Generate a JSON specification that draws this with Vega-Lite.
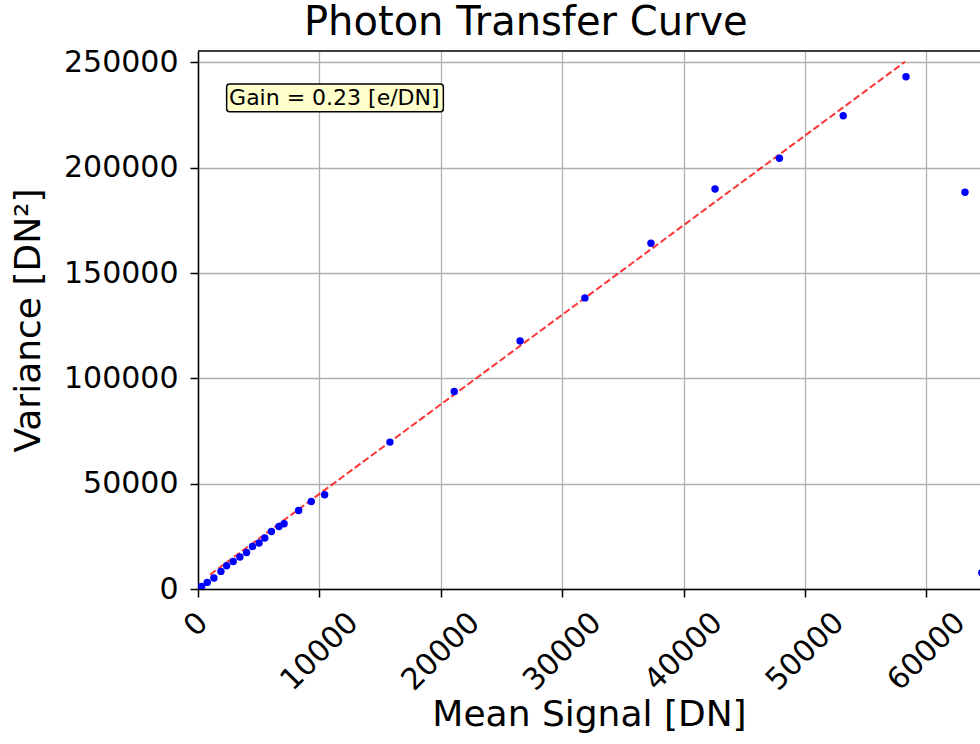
{
  "$schema": "https://vega.github.io/schema/vega-lite/v6.json",
  "width": 782,
  "height": 538,
  "autosize": {"type": "none"},
  "padding": {"left": 198, "top": 51, "right": 0, "bottom": 155},
  "background": "white",
  "title": {
    "text": "Photon Transfer Curve",
    "font": "DejaVu Sans",
    "fontSize": 40,
    "fontWeight": "normal",
    "color": "black",
    "anchor": "start",
    "frame": "group",
    "dx": 106,
    "dy": 38,
    "baseline": "alphabetic",
    "offset": 10
  },
  "config": {
    "view": {"stroke": null},
    "font": "DejaVu Sans",
    "axis": {
      "grid": true,
      "gridColor": "#b0b0b0",
      "gridWidth": 1.3,
      "domainColor": "black",
      "domainWidth": 1.5,
      "tickColor": "black",
      "tickWidth": 1.5,
      "tickSize": 8,
      "labelColor": "black",
      "labelFont": "DejaVu Sans",
      "labelFontSize": 30,
      "titleFont": "DejaVu Sans",
      "titleFontSize": 36,
      "titleFontWeight": "normal",
      "titleColor": "black"
    }
  },
  "datasets": {
    "points": [
      {"mean": 300, "variance": 1230},
      {"mean": 760, "variance": 3130},
      {"mean": 1310, "variance": 5220},
      {"mean": 1890, "variance": 8350},
      {"mean": 2360, "variance": 11050},
      {"mean": 2900, "variance": 13090},
      {"mean": 3450, "variance": 15180},
      {"mean": 4000, "variance": 17360},
      {"mean": 4490, "variance": 20210},
      {"mean": 5030, "variance": 21820},
      {"mean": 5500, "variance": 24190},
      {"mean": 6050, "variance": 27320},
      {"mean": 6670, "variance": 29700},
      {"mean": 7090, "variance": 30980},
      {"mean": 8290, "variance": 37290},
      {"mean": 9330, "variance": 41560},
      {"mean": 10430, "variance": 44730},
      {"mean": 15810, "variance": 69730},
      {"mean": 21110, "variance": 93740},
      {"mean": 26530, "variance": 117790},
      {"mean": 31870, "variance": 138190},
      {"mean": 37310, "variance": 164140},
      {"mean": 42590, "variance": 189900},
      {"mean": 47890, "variance": 204460},
      {"mean": 53150, "variance": 224670},
      {"mean": 58320, "variance": 243170},
      {"mean": 63180, "variance": 188330},
      {"mean": 64560, "variance": 7730}
    ],
    "fit": [
      {"mean": 990, "variance": 6780},
      {"mean": 58240, "variance": 250280}
    ],
    "box": [
      {"x1": 2360, "x2": 20210, "y1": 226560, "y2": 239700, "tx": 2560, "ty": 233100, "label": "Gain = 0.23 [e/DN]"}
    ],
    "spine": [
      {"top": 255400}
    ]
  },
  "layer": [
    {
      "data": {"name": "fit"},
      "mark": {"type": "line", "color": "#ff0000", "opacity": 0.8, "strokeWidth": 2, "strokeDash": [7, 3], "clip": true},
      "encoding": {
        "x": {
          "field": "mean",
          "type": "quantitative",
          "scale": {"domain": [0, 64415], "nice": false, "zero": false},
          "axis": {
            "values": [0, 10000, 20000, 30000, 40000, 50000, 60000],
            "format": "d",
            "title": "Mean Signal [DN]",
            "labelAngle": -45,
            "labelAlign": "right",
            "labelBaseline": "top",
            "labelPadding": 10,
            "labelOffset": {"condition": {"test": "datum.value == 0", "value": -6}, "value": 23},
            "titlePadding": 2
          }
        },
        "y": {
          "field": "variance",
          "type": "quantitative",
          "scale": {"domain": [0, 255400], "nice": false, "zero": false},
          "axis": {
            "values": [0, 50000, 100000, 150000, 200000, 250000],
            "format": "d",
            "title": "Variance [DN²]",
            "labelPadding": 12,
            "titlePadding": 16
          }
        }
      }
    },
    {
      "data": {"name": "points"},
      "mark": {"type": "circle", "color": "#0000ff", "opacity": 1, "size": 55, "clip": true},
      "encoding": {
        "x": {"field": "mean", "type": "quantitative"},
        "y": {"field": "variance", "type": "quantitative"}
      }
    },
    {
      "data": {"name": "spine"},
      "mark": {"type": "rule", "color": "black", "strokeWidth": 1.5, "clip": false},
      "encoding": {
        "y": {"field": "top", "type": "quantitative"}
      }
    },
    {
      "data": {"name": "box"},
      "mark": {"type": "rect", "fill": "#ffffcc", "stroke": "black", "strokeWidth": 1.5, "cornerRadius": 3},
      "encoding": {
        "x": {"field": "x1", "type": "quantitative"},
        "x2": {"field": "x2"},
        "y": {"field": "y1", "type": "quantitative"},
        "y2": {"field": "y2"}
      }
    },
    {
      "data": {"name": "box"},
      "mark": {"type": "text", "align": "left", "baseline": "middle", "fontSize": 22, "font": "DejaVu Sans", "color": "black"},
      "encoding": {
        "x": {"field": "tx", "type": "quantitative"},
        "y": {"field": "ty", "type": "quantitative"},
        "text": {"field": "label"}
      }
    }
  ]
}
